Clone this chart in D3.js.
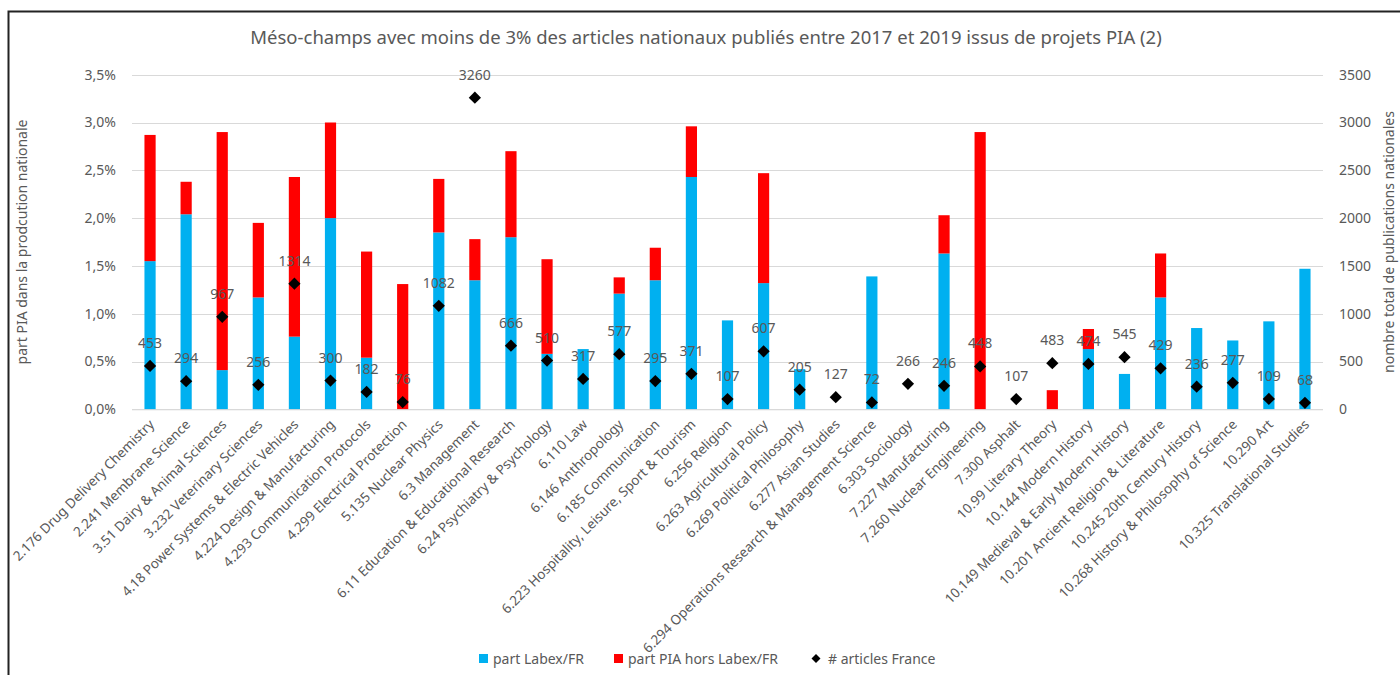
<!DOCTYPE html>
<html><head><meta charset="utf-8">
<script src="https://cdn.jsdelivr.net/npm/d3@7"></script>
<style>
body{margin:0;background:#fff;}
text{font-family:"Segoe UI","Noto Sans","Open Sans",sans-serif;}
</style></head>
<body><svg id="c" width="1400" height="675"></svg>
<script>
const categories = ["2.176 Drug Delivery Chemistry","2.241 Membrane Science","3.51 Dairy & Animal Sciences","3.232 Veterinary Sciences","4.18 Power Systems & Electric Vehicles","4.224 Design & Manufacturing","4.293 Communication Protocols","4.299 Electrical Protection","5.135 Nuclear Physics","6.3 Management","6.11 Education & Educational Research","6.24 Psychiatry & Psychology","6.110 Law","6.146 Anthropology","6.185 Communication","6.223 Hospitality, Leisure, Sport & Tourism","6.256 Religion","6.263 Agricultural Policy","6.269 Political Philosophy","6.277 Asian Studies","6.294 Operations Research & Management Science","6.303 Sociology","7.227 Manufacturing","7.260 Nuclear Engineering","7.300 Asphalt","10.99 Literary Theory","10.144 Modern History","10.149 Medieval & Early Modern History","10.201 Ancient Religion & Literature","10.245 20th Century History","10.268 History & Philosophy of Science","10.290 Art","10.325 Translational Studies"];
// part Labex/FR (%)
const labex = [1.55,2.04,0.41,1.17,0.76,2.00,0.54,0,1.85,1.35,1.80,0.58,0.63,1.21,1.35,2.43,0.93,1.32,0.42,0,1.39,0,1.63,0,0,0,0.63,0.37,1.17,0.85,0.72,0.92,1.47];
// part PIA hors Labex/FR (%)
const horsLabex = [1.32,0.34,2.49,0.78,1.67,1.00,1.11,1.31,0.56,0.43,0.90,0.99,0,0.17,0.34,0.53,0,1.15,0,0,0,0,0.40,2.90,0,0.20,0.21,0,0.46,0,0,0,0];
// # articles France
const articles = [453,294,967,256,1314,300,182,76,1082,3260,666,510,317,577,295,371,107,607,205,127,72,266,246,448,107,483,474,545,429,236,277,109,68];
const leftTicks = [0,0.5,1,1.5,2,2.5,3,3.5];
const rightTicks = [0,500,1000,1500,2000,2500,3000,3500];

const svg = d3.select("#c");
const X0=132, X1=1323, Y0=409.3, Y1=74.7;
const txt="#595959";
const x = d3.scaleBand().domain(categories).range([X0,X1]).paddingInner(0.69).paddingOuter(0.345);
const yL = d3.scaleLinear().domain([0,3.5]).range([Y0,Y1]);
const yR = d3.scaleLinear().domain([0,3500]).range([Y0,Y1]);

// border
svg.append("path").attr("d","M8.5,675 L8.5,11.5 L1400,11.5").attr("fill","none").attr("stroke","#222").attr("stroke-width",2);

// title
svg.append("text").attr("x",706).attr("y",44).attr("text-anchor","middle").attr("font-size",18.5).attr("fill",txt)
 .text("Méso-champs avec moins de 3% des articles nationaux publiés entre 2017 et 2019 issus de projets PIA (2)");

// grid
svg.append("g").selectAll("line").data(leftTicks).join("line")
 .attr("x1",X0).attr("x2",X1).attr("y1",d=>Math.round(yL(d))+0.5).attr("y2",d=>Math.round(yL(d))+0.5)
 .attr("stroke","#d9d9d9").attr("stroke-width",1);

// left axis
const fmt = d=>d.toFixed(1).replace(".",",")+"%";
const gL = svg.append("g").attr("transform",`translate(${X0-16},0)`)
 .call(d3.axisLeft(yL).tickValues(leftTicks).tickFormat(fmt).tickSize(0).tickPadding(0));
gL.select(".domain").remove();
gL.selectAll("text").attr("font-size",14).attr("fill",txt).style("font-family",null);

const gR = svg.append("g").attr("transform",`translate(${X1+16},0)`)
 .call(d3.axisRight(yR).tickValues(rightTicks).tickFormat(d3.format("d")).tickSize(0).tickPadding(0));
gR.select(".domain").remove();
gR.selectAll("text").attr("font-size",14).attr("fill",txt).style("font-family",null);

// axis titles
svg.append("text").attr("transform","translate(27,242) rotate(-90)").attr("text-anchor","middle").attr("font-size",14).attr("fill",txt)
 .text("part PIA dans la prodcution nationale");
svg.append("text").attr("transform","translate(1394,242) rotate(-90)").attr("text-anchor","middle").attr("font-size",14).attr("fill",txt)
 .text("nombre total de publications nationales");

// bars
const bw = x.bandwidth();
svg.append("g").selectAll("rect").data(categories).join("rect")
 .attr("x",(d)=>x(d)).attr("width",bw)
 .attr("y",(d,i)=>yL(labex[i])).attr("height",(d,i)=>yL(0)-yL(labex[i])).attr("fill","#00b0f0");
svg.append("g").selectAll("rect").data(categories).join("rect")
 .attr("x",(d)=>x(d)).attr("width",bw)
 .attr("y",(d,i)=>yL(labex[i]+horsLabex[i])).attr("height",(d,i)=>yL(labex[i])-yL(labex[i]+horsLabex[i])).attr("fill","#ff0000");

// axis line
svg.append("line").attr("x1",X0).attr("x2",X1).attr("y1",Y0+0.5).attr("y2",Y0+0.5).attr("stroke","#d9d9d9");

// x labels
const gX = svg.append("g").attr("transform",`translate(0,${Y0})`)
 .call(d3.axisBottom(x).tickSize(0).tickPadding(0));
gX.select(".domain").remove();
gX.selectAll("text").attr("font-size",13.5).attr("fill",txt).style("font-family",null)
 .attr("text-anchor","end").attr("dy",null).attr("y",0)
 .attr("transform","translate(5,16) rotate(-45)");

// diamonds
const diamond = d3.symbol().type(d3.symbolSquare).size(75);
svg.append("g").selectAll("path").data(categories).join("path")
 .attr("d",diamond)
 .attr("transform",(d,i)=>`translate(${x(d)+bw/2},${yR(articles[i])}) rotate(45)`)
 .attr("fill","#000");
svg.append("g").selectAll("text").data(categories).join("text")
 .attr("x",(d)=>x(d)+bw/2).attr("y",(d,i)=>yR(articles[i])-18)
 .attr("text-anchor","middle").attr("font-size",14).attr("fill",txt)
 .text((d,i)=>articles[i]);

// legend
const lg = svg.append("g");
lg.append("rect").attr("x",479).attr("y",654).attr("width",9).attr("height",9).attr("fill","#00b0f0");
lg.append("text").attr("x",493).attr("y",663.5).attr("font-size",14).attr("fill",txt).text("part Labex/FR");
lg.append("rect").attr("x",614).attr("y",654).attr("width",9).attr("height",9).attr("fill","#ff0000");
lg.append("text").attr("x",628).attr("y",663.5).attr("font-size",14).attr("fill",txt).text("part PIA hors Labex/FR");
lg.append("path").attr("d",d3.symbol().type(d3.symbolSquare).size(40)).attr("transform","translate(816,658.5) rotate(45)").attr("fill","#000");
lg.append("text").attr("x",828).attr("y",663.5).attr("font-size",14).attr("fill",txt).text("# articles France");
</script></body></html>
